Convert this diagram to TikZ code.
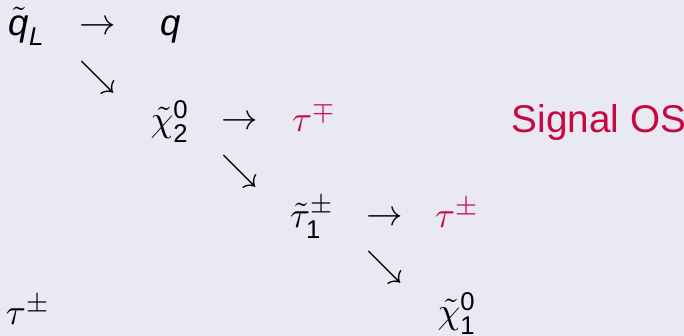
\documentclass[tikz,border=0pt]{standalone}
\usepackage{amsmath}
\usepackage{fontspec}
\setmainfont{Liberation Sans}
\definecolor{bgcol}{RGB}{233,233,243}
\definecolor{alertred}{RGB}{200,8,64}
\begin{document}
\begin{tikzpicture}[x=0.3pt,y=-0.3pt,
  every node/.style={inner sep=0pt,outer sep=0pt,font=\fontsize{11}{13}\selectfont},
  part/.style={anchor=base},
  alert/.style={text=alertred},
  arr/.style={anchor=center}]
\fill[bgcol] (0,0) rectangle (684,336);
\useasboundingbox (0,0) rectangle (684,336);
% row 1
\node[part] (qL) at (27,36) {$\tilde{\text{\itshape q}}_{\text{\itshape L}}$};
\node[arr] (a1) at (98,28) {$\rightarrow$};
\node[part] (q) at (171,36) {$\text{\itshape q}$};
\node[arr] (d1) at (98,77) {$\searrow$};
% row 2
\node[part] (chi2) at (170,132) {$\tilde\chi^{\text{0}}_{\text{2}}$};
\node[arr] (a2) at (240,123) {$\rightarrow$};
\node[part,alert] (tau1) at (314,132) {$\tau^{\mp}$};
\node[arr] (d2) at (240,171) {$\searrow$};
\node[anchor=base west,alert,font=\fontsize{11.6}{14}\selectfont] (sig) at (512,133) {Signal OS};
% row 3
\node[part] (stau) at (312,228) {$\tilde\tau^{\pm}_{\text{1}}$};
\node[arr] (a3) at (385,219) {$\rightarrow$};
\node[part,alert] (tau2) at (457,228) {$\tau^{\pm}$};
\node[arr] (d3) at (385,267) {$\searrow$};
% row 4
\node[part] (chi1) at (457,324) {$\tilde\chi^{\text{0}}_{\text{1}}$};
\node[anchor=base west] (tau3) at (6,325) {$\tau^{\pm}$};
\end{tikzpicture}
\end{document}
